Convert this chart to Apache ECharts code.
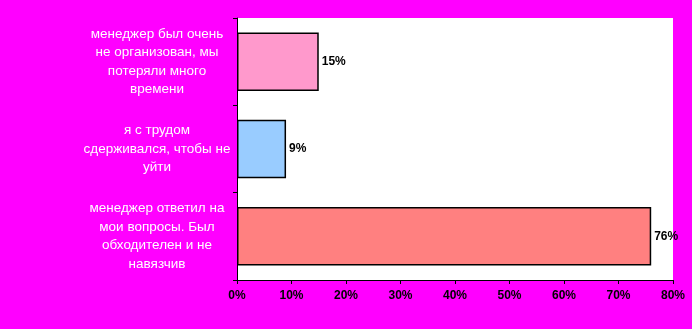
<!DOCTYPE html>
<html><head><meta charset="utf-8">
<script src="https://cdn.jsdelivr.net/npm/echarts@6/dist/echarts.min.js"></script>
<style>html,body{margin:0;padding:0;background:#FF00FF}#c{width:692px;height:329px}</style>
</head><body><div id="c"></div>
<script>
const categories = [
  'менеджер ответил на\nмои вопросы. Был\nобходителен и не\nнавязчив',
  'я с трудом\nсдерживался, чтобы не\nуйти',
  'менеджер был очень\nне организован, мы\nпотеряли много\nвремени'
];
const values = [76, 9, 15];
const barColors = ['#FF8080', '#99CCFF', '#FF99CC'];
const xTicks = [0, 10, 20, 30, 40, 50, 60, 70, 80];

const chart = echarts.init(document.getElementById('c'));
chart.setOption({
  backgroundColor: '#FF00FF',
  animation: false,
  grid: {left: 237, right: 19, top: 18, bottom: 49, show: true, backgroundColor: '#FFFFFF', borderWidth: 0},
  xAxis: {
    type: 'value', min: xTicks[0], max: xTicks[xTicks.length-1], interval: 10,
    axisLine: {show: true, lineStyle: {color: '#000', width: 1}},
    axisTick: {show: true, length: 4, lineStyle: {color: '#000'}},
    splitLine: {show: false},
    axisLabel: {formatter: v => v + '%', color: '#000', fontWeight: 'bold', fontSize: 12,
      fontFamily: 'Arial, Liberation Sans', margin: 10,
      textShadowColor: '#fff', textShadowOffsetX: 1, textShadowOffsetY: 1, textShadowBlur: 0}
  },
  yAxis: {
    type: 'category', data: categories,
    axisLine: {show: true, lineStyle: {color: '#000', width: 1}},
    axisTick: {show: true, length: 4, lineStyle: {color: '#000'}},
    axisLabel: {color: '#fff', fontSize: 13.5, fontFamily: 'Arial, Liberation Sans', lineHeight: 18.5,
      align: 'center', margin: 80,
      textShadowColor: '#222', textShadowOffsetX: 1, textShadowOffsetY: 1, textShadowBlur: 0}
  },
  series: [{
    type: 'bar',
    data: values.map((v, i) => ({value: v, itemStyle: {color: barColors[i]}})),
    barWidth: '67%',
    itemStyle: {borderColor: '#000', borderWidth: 1.5},
    label: {show: true, position: 'right', distance: 3, formatter: p => p.value + '%',
      color: '#000', fontWeight: 'bold', fontSize: 12, fontFamily: 'Arial, Liberation Sans'}
  }]
});
</script></body></html>
